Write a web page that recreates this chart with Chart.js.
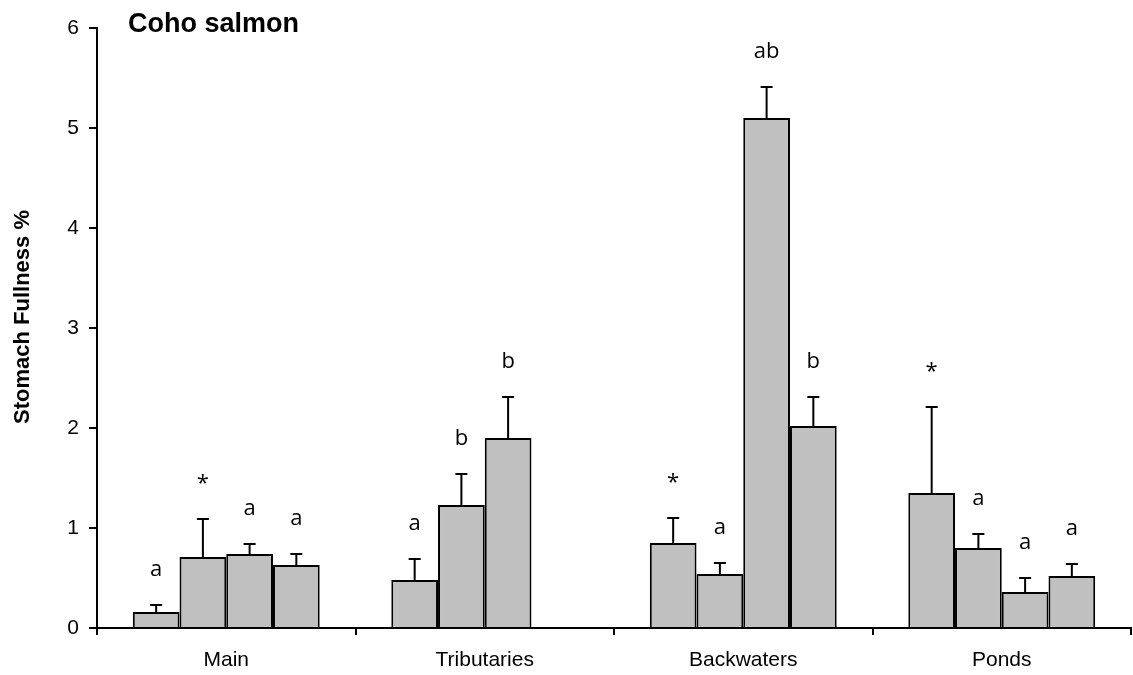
<!DOCTYPE html>
<html>
<head>
<meta charset="utf-8">
<script src="https://cdn.jsdelivr.net/npm/chart.js@4.4.0/dist/chart.umd.min.js"></script>
<style>
  html, body { margin: 0; padding: 0; background: #fff; }
  #wrap { width: 1133px; height: 675px; }
</style>
</head>
<body>
<div id="wrap"><canvas id="chart" width="1133" height="675"></canvas></div>
<script>
// habitats on the x axis
const habitats = ['Main', 'Tributaries', 'Backwaters', 'Ponds'];

// mean stomach fullness, one array per bar position in each group
const bar1 = [0.16, 0.48, 0.85, 1.35];
const bar2 = [0.71, 1.23, 0.54, 0.80];
const bar3 = [0.74, 1.90, 5.10, 0.36];
const bar4 = [0.63, null, 2.02, 0.52];

// upper error (SE)
const err1 = [0.07, 0.21, 0.25, 0.86];
const err2 = [0.38, 0.31, 0.11, 0.14];
const err3 = [0.10, 0.41, 0.31, 0.14];
const err4 = [0.11, null, 0.29, 0.12];

// significance letters over each bar
const sig1 = ['a', 'a', '*', '*'];
const sig2 = ['*', 'b', 'a', 'a'];
const sig3 = ['a', 'b', 'ab', 'a'];
const sig4 = ['a', '', 'b', 'a'];

const yTicks = [0, 1, 2, 3, 4, 5, 6];

const chartTitle = 'Coho salmon';
const yTitle = 'Stomach Fullness %';

const errors = [err1, err2, err3, err4];
const letters = [sig1, sig2, sig3, sig4];

const errorBars = {
  id: 'errorBars',
  afterDatasetsDraw(chart) {
    const ctx = chart.ctx;
    const y = chart.scales.y;
    ctx.save();
    ctx.strokeStyle = '#000';
    ctx.lineWidth = 2;
    chart.data.datasets.forEach((ds, i) => {
      const meta = chart.getDatasetMeta(i);
      meta.data.forEach((bar, j) => {
        const v = ds.data[j];
        const e = errors[i][j];
        if (v == null || e == null) return;
        const top = y.getPixelForValue(v + e);
        ctx.beginPath();
        ctx.moveTo(bar.x, bar.y);
        ctx.lineTo(bar.x, top);
        ctx.moveTo(bar.x - 6, top);
        ctx.lineTo(bar.x + 6, top);
        ctx.stroke();

        const txt = letters[i][j];
        if (txt) {
          ctx.fillStyle = '#000';
          ctx.font = '22px "Open Sans", sans-serif';
          ctx.textAlign = 'center';
          ctx.textBaseline = 'alphabetic';
          ctx.fillText(txt, bar.x, top - 29);
        }
      });
    });
    ctx.restore();
  }
};

const extraText = {
  id: 'extraText',
  afterDraw(chart) {
    const ctx = chart.ctx;
    ctx.save();
    ctx.fillStyle = '#000';
    ctx.font = 'bold 27px "Liberation Sans", Arial, sans-serif';
    ctx.textAlign = 'left';
    ctx.textBaseline = 'alphabetic';
    ctx.fillText(chartTitle, 128, 32);

    ctx.translate(29, 317);
    ctx.rotate(-Math.PI / 2);
    ctx.font = 'bold 22px "Liberation Sans", Arial, sans-serif';
    ctx.textAlign = 'center';
    ctx.fillText(yTitle, 0, 0);
    ctx.restore();
  }
};

function barSet(data) {
  return {
    data,
    backgroundColor: '#c0c0c0',
    borderColor: '#000',
    borderWidth: 2,
    categoryPercentage: 0.723,
    barPercentage: 1.0
  };
}

new Chart(document.getElementById('chart'), {
  type: 'bar',
  data: {
    labels: habitats,
    datasets: [barSet(bar1), barSet(bar2), barSet(bar3), barSet(bar4)]
  },
  options: {
    responsive: false,
    animation: false,
    layout: { padding: { top: 28, right: 2, left: 0, bottom: 0 } },
    plugins: {
      legend: { display: false },
      tooltip: { enabled: false },
      title: { display: false }
    },
    scales: {
      x: {
        offset: true,
        grid: { offset: true, drawOnChartArea: false, tickLength: 7, color: '#000', lineWidth: 2 },
        border: { color: '#000', width: 2 },
        ticks: { color: '#000', padding: 13, font: { family: '"Liberation Sans", Arial, sans-serif', size: 21 } },
        afterFit(s) { s.height = 47; }
      },
      y: {
        min: 0,
        max: 6,
        afterBuildTicks(s) { s.ticks = yTicks.map(v => ({ value: v })); },
        grid: { drawOnChartArea: false, tickLength: 8, color: '#000', lineWidth: 2 },
        border: { color: '#000', width: 2 },
        ticks: { color: '#000', padding: 10, font: { family: '"Liberation Sans", Arial, sans-serif', size: 21 } },
        afterFit(s) { s.width = 97; }
      }
    }
  },
  plugins: [errorBars, extraText]
});
</script>
</body>
</html>
